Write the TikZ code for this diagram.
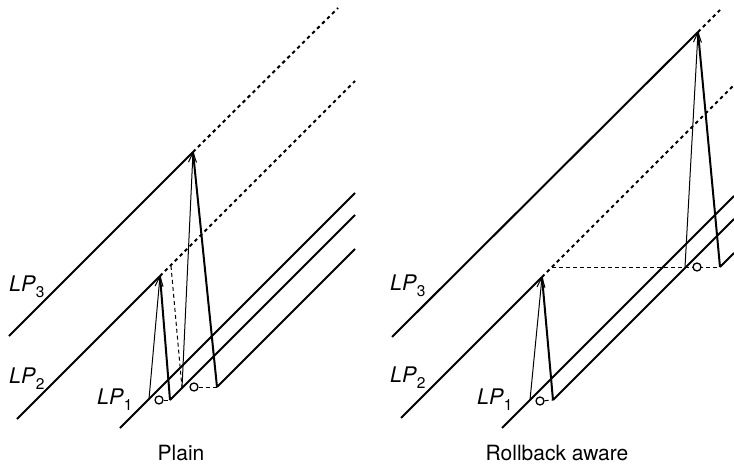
\documentclass[tikz,border=0pt]{standalone}
\usepackage{fontspec}
\setmainfont{TeX Gyre Heros}
\usetikzlibrary{arrows.meta}
\tikzset{
  lpline/.style={line width=2pt, line cap=butt},
  lpdot/.style={line width=2pt, dash pattern=on 3.5pt off 3.5pt},
  thinarrow/.style={line width=1pt, -{Straight Barb[length=10pt,width=8pt,line width=1pt]}, shorten >=-1pt},
  backline/.style={line width=2pt, line join=miter},
  dashline/.style={line width=1pt, dash pattern=on 4pt off 3pt},
  rbcircle/.style={circle, draw, line width=1.3pt, fill=white, minimum size=8pt, inner sep=0pt},
  lplabel/.style={anchor=base west, inner sep=0pt, font=\fontsize{21.5}{24}\selectfont},
  caption/.style={anchor=base, inner sep=0pt, font=\fontsize{21}{24}\selectfont}
}
\newcommand{\lpname}[1]{\textit{LP}\raisebox{-0.32em}{\fontsize{15.5}{16}\selectfont #1}}
\begin{document}
\begin{tikzpicture}[x=1pt,y=-1pt]
\useasboundingbox (0,0) rectangle (734,468);
% ---------------- Left panel: Plain ----------------
\coordinate (l3s) at (9,336);
\coordinate (l3a) at (193,152);
\coordinate (l3e) at (338,8);
\coordinate (l2s) at (17,419);
\coordinate (l2a) at (160,276);
\coordinate (l2e) at (355,81);
\coordinate (lAs) at (120,428);
\coordinate (lAe) at (355,193);
\coordinate (lBs) at (170,400);
\coordinate (lBe) at (355,215);
\coordinate (lCs) at (217,387);
\coordinate (lCe) at (355,249);
\coordinate (lm1) at (149,399);
\coordinate (ld1) at (171,266);
\coordinate (lm2) at (182,388);

\draw[lpline] (l3s) -- (l3a);
\draw[lpdot] (l3a) -- (l3e);
\draw[lpline] (l2s) -- (l2a);
\draw[lpdot] (l2a) -- (l2e);
\draw[lpline] (lAs) -- (lAe);
\draw[lpline] (lBs) -- (lBe);
\draw[lpline] (lCs) -- (lCe);

\draw[thinarrow] (lm1) -- (l2a);
\draw[backline] (l2a) -- (lBs);
\draw[dashline] (ld1) -- (lm2);
\draw[thinarrow] (lm2) -- (l3a);
\draw[backline] (l3a) -- (lCs);

\node[rbcircle] (lc1) at (159,400) {};
\draw[dashline] (lc1) -- (lBs);
\node[rbcircle] (lc2) at (194,387) {};
\draw[dashline] (lc2) -- (lCs);

\node[lplabel] (lab3l) at (9,291) {\lpname{3}};
\node[lplabel] (lab2l) at (9,383) {\lpname{2}};
\node[lplabel] (lab1l) at (97,404) {\lpname{1}};
\node[caption] (capl) at (181,460) {Plain};

% ---------------- Right panel: Rollback aware ----------------
\coordinate (r3s) at (392,337);
\coordinate (r3a) at (698,32);
\coordinate (r3e) at (720,10);
\coordinate (r2s) at (401,418);
\coordinate (r2a) at (542,277);
\coordinate (r2e) at (734,85);
\coordinate (rAs) at (502,428);
\coordinate (rAe) at (734,196);
\coordinate (rBs) at (553,400);
\coordinate (rBe) at (734,219);
\coordinate (rCs) at (720,267);
\coordinate (rCe) at (734,253);
\coordinate (rm1) at (530,400);
\coordinate (rd1) at (552,267);
\coordinate (rm2) at (685,267);

\draw[lpline] (r3s) -- (r3a);
\draw[lpdot] (r3a) -- (r3e);
\draw[lpline] (r2s) -- (r2a);
\draw[lpdot] (r2a) -- (r2e);
\draw[lpline] (rAs) -- (rAe);
\draw[lpline] (rBs) -- (rBe);
\draw[lpline] (rCs) -- (rCe);

\draw[thinarrow] (rm1) -- (r2a);
\draw[backline] (r2a) -- (rBs);
\draw[dashline] (rd1) -- (rCs);
\draw[thinarrow] (rm2) -- (r3a);
\draw[backline] (r3a) -- (rCs);

\node[rbcircle] (rc1) at (540,401) {};
\draw[dashline] (rc1) -- (rBs);
\node[rbcircle] (rc2) at (697,267) {};

\node[lplabel] (lab3r) at (390,290) {\lpname{3}};
\node[lplabel] (lab2r) at (390,382) {\lpname{2}};
\node[lplabel] (lab1r) at (477,404) {\lpname{1}};
\node[caption] (capr) at (557,460) {Rollback aware};
\end{tikzpicture}
\end{document}
